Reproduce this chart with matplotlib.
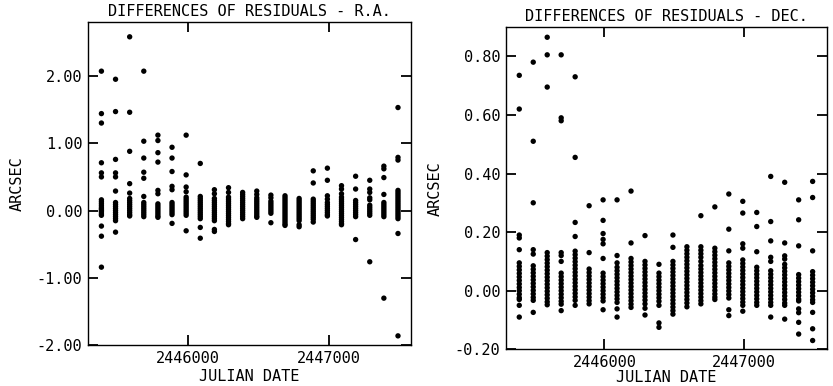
import matplotlib
matplotlib.use("Agg")
import matplotlib.pyplot as plt

plt.rcParams['font.family'] = ['DejaVu Sans Mono']
plt.rcParams['axes.unicode_minus'] = False

# Julian dates of the observation groups (same in both panels)
jd_cols = [2445390, 2445490, 2445590, 2445690, 2445790, 2445890, 2445990, 2446090,
           2446190, 2446290, 2446390, 2446490, 2446590, 2446690, 2446790, 2446890,
           2446990, 2447090, 2447190, 2447290, 2447390, 2447490]

# Differences of residuals in R.A. (arcsec), one list per date group
ra_cols = [
    [2.07, 1.44, 1.30, 0.71, 0.56, 0.50, 0.16, 0.13, 0.10, 0.07, 0.04, 0.02, 0.00, -0.02, -0.05, -0.07, -0.23, -0.38, -0.84],
    [1.95, 1.47, 0.76, 0.56, 0.50, 0.29, 0.12, 0.09, 0.06, 0.03, 0.00, -0.03, -0.06, -0.09, -0.12, -0.15, -0.32],
    [2.58, 1.46, 0.88, 0.40, 0.26, 0.18, 0.15, 0.12, 0.09, 0.06, 0.03, 0.00, -0.03, -0.06, -0.08],
    [2.07, 1.03, 0.78, 0.57, 0.48, 0.21, 0.12, 0.09, 0.06, 0.03, 0.00, -0.03, -0.06, -0.09],
    [1.12, 1.04, 0.86, 0.72, 0.30, 0.25, 0.10, 0.07, 0.04, 0.01, -0.02, -0.05, -0.08, -0.10],
    [0.94, 0.78, 0.58, 0.36, 0.31, 0.12, 0.09, 0.06, 0.03, 0.00, -0.03, -0.06, -0.19],
    [1.12, 0.53, 0.35, 0.28, 0.20, 0.17, 0.14, 0.11, 0.08, 0.05, 0.02, -0.01, -0.04, -0.07, -0.30],
    [0.70, 0.21, 0.18, 0.15, 0.12, 0.09, 0.06, 0.03, 0.00, -0.03, -0.06, -0.09, -0.12, -0.25, -0.41],
    [0.31, 0.25, 0.18, 0.15, 0.12, 0.09, 0.06, 0.03, 0.00, -0.03, -0.06, -0.09, -0.12, -0.15, -0.28, -0.31],
    [0.34, 0.27, 0.20, 0.17, 0.14, 0.11, 0.08, 0.05, 0.02, -0.01, -0.04, -0.07, -0.10, -0.13, -0.16, -0.19, -0.21],
    [0.27, 0.24, 0.21, 0.18, 0.15, 0.12, 0.09, 0.06, 0.03, 0.00, -0.03, -0.06, -0.09, -0.12],
    [0.29, 0.24, 0.19, 0.16, 0.13, 0.10, 0.07, 0.04, 0.01, -0.02, -0.05, -0.08, -0.10],
    [0.23, 0.19, 0.14, 0.11, 0.08, 0.05, 0.02, -0.01, -0.04, -0.18],
    [0.22, 0.19, 0.16, 0.13, 0.10, 0.07, 0.04, 0.01, -0.02, -0.05, -0.08, -0.11, -0.14, -0.17, -0.20, -0.22],
    [0.18, 0.15, 0.12, 0.09, 0.06, 0.03, 0.00, -0.03, -0.06, -0.09, -0.12, -0.15, -0.21, -0.24],
    [0.59, 0.41, 0.17, 0.14, 0.11, 0.08, 0.05, 0.02, -0.01, -0.04, -0.07, -0.10, -0.13, -0.17],
    [0.63, 0.45, 0.22, 0.17, 0.12, 0.09, 0.06, 0.03, 0.00, -0.03, -0.06, -0.08],
    [0.37, 0.32, 0.25, 0.20, 0.17, 0.14, 0.11, 0.08, 0.05, 0.02, -0.01, -0.04, -0.07, -0.10, -0.13, -0.16, -0.19, -0.21],
    [0.51, 0.32, 0.15, 0.12, 0.09, 0.06, 0.03, 0.00, -0.03, -0.06, -0.09, -0.43],
    [0.45, 0.32, 0.27, 0.19, 0.16, 0.08, 0.05, 0.02, -0.01, -0.04, -0.07, -0.76],
    [0.66, 0.62, 0.49, 0.24, 0.12, 0.09, 0.06, 0.03, 0.00, -0.03, -0.06, -0.09, -1.30],
    [1.53, 0.79, 0.75, 0.30, 0.27, 0.24, 0.21, 0.18, 0.15, 0.12, 0.09, 0.06, 0.03, 0.00, -0.03, -0.06, -0.09, -0.12, -0.34, -1.86],
]

# Differences of residuals in Dec. (arcsec), one list per date group
dec_cols = [
    [0.735, 0.62, 0.19, 0.18, 0.14, 0.095, 0.083, 0.071, 0.059, 0.047, 0.035, 0.023, 0.011, 0.0, -0.012, -0.024, -0.03, -0.05, -0.09],
    [0.78, 0.51, 0.30, 0.14, 0.125, 0.085, 0.073, 0.061, 0.049, 0.037, 0.025, 0.013, 0.001, -0.011, -0.023, -0.033, -0.074],
    [0.865, 0.805, 0.695, 0.13, 0.118, 0.106, 0.094, 0.082, 0.07, 0.058, 0.046, 0.034, 0.022, 0.01, -0.002, -0.014, -0.026, -0.038, -0.048],
    [0.805, 0.59, 0.58, 0.13, 0.12, 0.10, 0.06, 0.048, 0.036, 0.024, 0.012, 0.0, -0.012, -0.024, -0.036, -0.046, -0.068],
    [0.73, 0.455, 0.233, 0.185, 0.135, 0.123, 0.111, 0.099, 0.087, 0.075, 0.063, 0.051, 0.039, 0.027, 0.015, 0.003, -0.009, -0.021, -0.033, -0.05],
    [0.29, 0.13, 0.074, 0.062, 0.05, 0.038, 0.026, 0.014, 0.002, -0.01, -0.022, -0.034, -0.045],
    [0.31, 0.24, 0.195, 0.175, 0.16, 0.11, 0.06, 0.048, 0.036, 0.024, 0.012, 0.0, -0.012, -0.024, -0.035, -0.065],
    [0.31, 0.12, 0.095, 0.08, 0.068, 0.056, 0.044, 0.032, 0.02, 0.008, -0.004, -0.016, -0.028, -0.04, -0.062, -0.09],
    [0.34, 0.163, 0.11, 0.098, 0.086, 0.074, 0.062, 0.05, 0.038, 0.026, 0.014, 0.002, -0.01, -0.022, -0.034, -0.046, -0.057],
    [0.188, 0.10, 0.088, 0.076, 0.064, 0.052, 0.04, 0.028, 0.016, 0.004, -0.008, -0.02, -0.032, -0.045, -0.06, -0.083],
    [0.09, 0.06, 0.048, 0.036, 0.024, 0.012, 0.0, -0.012, -0.024, -0.036, -0.05, -0.11, -0.125],
    [0.19, 0.148, 0.10, 0.088, 0.076, 0.064, 0.052, 0.04, 0.028, 0.016, 0.004, -0.008, -0.02, -0.032, -0.044, -0.056, -0.068, -0.08],
    [0.15, 0.138, 0.126, 0.114, 0.102, 0.09, 0.078, 0.066, 0.054, 0.042, 0.03, 0.018, 0.006, -0.006, -0.018, -0.03, -0.042, -0.055],
    [0.256, 0.15, 0.138, 0.126, 0.114, 0.10, 0.086, 0.074, 0.062, 0.05, 0.038, 0.026, 0.014, 0.002, -0.01, -0.022, -0.034, -0.045],
    [0.286, 0.145, 0.133, 0.121, 0.109, 0.097, 0.085, 0.073, 0.061, 0.049, 0.037, 0.025, 0.013, 0.001, -0.011, -0.022, -0.03],
    [0.33, 0.21, 0.136, 0.095, 0.083, 0.071, 0.059, 0.047, 0.035, 0.023, 0.011, -0.001, -0.013, -0.025, -0.065, -0.085],
    [0.305, 0.265, 0.16, 0.145, 0.105, 0.093, 0.081, 0.069, 0.057, 0.045, 0.033, 0.021, 0.009, -0.003, -0.015, -0.027, -0.039, -0.05, -0.07],
    [0.267, 0.219, 0.133, 0.08, 0.068, 0.056, 0.044, 0.032, 0.02, 0.008, -0.004, -0.016, -0.028, -0.04, -0.05],
    [0.39, 0.236, 0.17, 0.114, 0.10, 0.068, 0.056, 0.044, 0.032, 0.02, 0.008, -0.004, -0.016, -0.028, -0.04, -0.05, -0.09],
    [0.37, 0.163, 0.119, 0.108, 0.09, 0.078, 0.066, 0.054, 0.042, 0.03, 0.018, 0.006, -0.006, -0.018, -0.03, -0.042, -0.05, -0.097],
    [0.31, 0.242, 0.153, 0.055, 0.043, 0.031, 0.019, 0.007, -0.005, -0.017, -0.029, -0.035, -0.062, -0.075, -0.108, -0.148],
    [0.373, 0.318, 0.136, 0.065, 0.053, 0.041, 0.029, 0.017, 0.005, -0.007, -0.019, -0.031, -0.04, -0.074, -0.13, -0.17],
]

x_ticks = [2446000, 2447000]
ra_yticks = [-2.0, -1.0, 0.0, 1.0, 2.0]
dec_yticks = [-0.2, 0.0, 0.2, 0.4, 0.6, 0.8]

W, H = 833, 386
fig = plt.figure(figsize=(W / 100, H / 100), dpi=100)

def make_axes(px_left, px_right, px_top, px_bottom):
    return fig.add_axes([px_left / W, 1 - px_bottom / H,
                         (px_right - px_left) / W, (px_bottom - px_top) / H])

ax1 = make_axes(88, 410.7, 22, 345.3)
ax2 = make_axes(506, 827.3, 27, 349.3)

FS = 11

def style(ax, title, yticks, ylim, xlim, xlabelpad):
    ax.set_xlim(*xlim)
    ax.set_ylim(*ylim)
    ax.set_xticks(x_ticks)
    ax.set_xticklabels([str(t) for t in x_ticks])
    ax.set_yticks(yticks)
    ax.set_yticklabels(["%.2f" % v for v in yticks])
    ax.tick_params(direction='in', length=7, width=1.3, top=True, right=True,
                   labelsize=FS, pad=4)
    for s in ax.spines.values():
        s.set_linewidth(1.0)
    ax.set_title(title, fontsize=FS, pad=4)
    ax.set_xlabel("JULIAN DATE", fontsize=FS, labelpad=xlabelpad)
    ax.set_ylabel("ARCSEC", fontsize=FS, labelpad=9)

for jd, vals in zip(jd_cols, ra_cols):
    ax1.scatter([jd] * len(vals), vals, s=15, c='black', edgecolors='none', zorder=3)
for jd, vals in zip(jd_cols, dec_cols):
    ax2.scatter([jd] * len(vals), vals, s=15, c='black', edgecolors='none', zorder=3)

style(ax1, "DIFFERENCES OF RESIDUALS - R.A.", ra_yticks, (-2.0, 2.8), (2445295, 2447580), 2)
style(ax2, "DIFFERENCES OF RESIDUALS - DEC.", dec_yticks, (-0.2, 0.9), (2445295, 2447595), 0)

fig.savefig("out.png", dpi=100, facecolor='white')
